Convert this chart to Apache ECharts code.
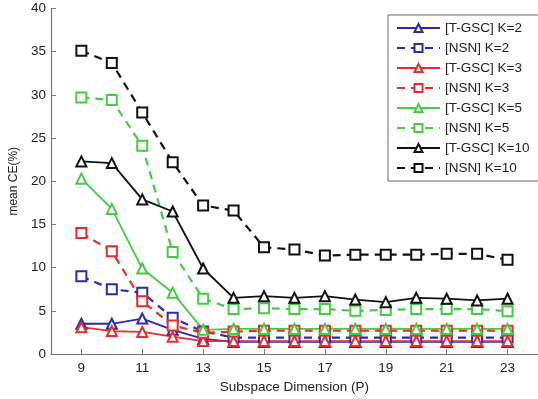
<!DOCTYPE html>
<html>
<head>
<meta charset="utf-8">
<script src="https://cdn.jsdelivr.net/npm/echarts@6/dist/echarts.min.js"></script>
<style>html,body{margin:0;padding:0;background:#fff}#c{width:538px;height:399px}</style>
</head>
<body>
<div id="c"></div>
<script>
var dims = [9,10,11,12,13,14,15,16,17,18,19,20,21,22,23];
var xTicks = [9,11,13,15,17,19,21,23];
var tgscK2  = [3.5,3.5,4.1,2.8,1.75,1.4,1.4,1.4,1.4,1.4,1.4,1.4,1.4,1.4,1.4];
var nsnK2   = [9.0,7.5,7.1,4.2,2.6,1.9,1.9,1.9,1.9,1.9,1.9,1.9,1.9,1.9,1.9];
var tgscK3  = [3.1,2.65,2.55,2.0,1.5,1.5,1.5,1.5,1.5,1.5,1.5,1.5,1.5,1.5,1.5];
var nsnK3   = [14.0,11.9,6.1,3.3,2.45,2.6,2.7,2.7,2.7,2.7,2.7,2.7,2.7,2.7,2.7];
var tgscK5  = [20.3,16.8,9.9,7.1,2.8,2.9,2.9,2.9,2.9,2.9,2.9,2.9,2.9,2.9,2.9];
var nsnK5   = [29.7,29.4,24.1,11.8,6.4,5.2,5.3,5.2,5.2,5.0,5.1,5.2,5.2,5.2,4.95];
var tgscK10 = [22.3,22.1,17.9,16.5,9.9,6.5,6.7,6.5,6.7,6.3,6.0,6.5,6.4,6.2,6.4];
var nsnK10  = [35.1,33.7,27.95,22.2,17.2,16.6,12.35,12.1,11.4,11.5,11.5,11.5,11.6,11.6,10.9];
var seriesNames = ['[T-GSC] K=2','[NSN] K=2','[T-GSC] K=3','[NSN] K=3','[T-GSC] K=5','[NSN] K=5','[T-GSC] K=10','[NSN] K=10'];
var seriesData = [tgscK2,nsnK2,tgscK3,nsnK3,tgscK5,nsnK5,tgscK10,nsnK10];
var colors = ['#2a2ab8','#2a2ab8','#ee2a2a','#ee2a2a','#44cc44','#44cc44','#111111','#111111'];

function mk(i){
  var dashed = (i % 2 === 1);
  return {
    name: seriesNames[i],
    type: 'line',
    data: dims.map(function(d,j){return [d, seriesData[i][j]];}),
    symbol: dashed ? 'emptyRect' : 'emptyTriangle',
    symbolSize: 10,
    color: colors[i],
    lineStyle: {width: dashed ? 2.2 : 1.8, type: dashed ? [8,6] : 'solid', color: colors[i]},
    itemStyle: {color: colors[i], borderWidth: 1.5, borderColor: colors[i]},
    animation: false
  };
}
var series = [];
for (var i=0;i<8;i++) series.push(mk(i));

var chart = echarts.init(document.getElementById('c'), null, {renderer:'canvas'});
chart.setOption({
  backgroundColor: '#fff',
  animation: false,
  grid: {left: 48, top: 8.5, width: 496, height: 346},
  xAxis: {
    type: 'value', min: 8, max: 24, interval: 1,
    name: 'Subspace Dimension (P)', nameLocation: 'middle', nameGap: 26,
    nameTextStyle: {fontFamily: 'Liberation Sans', fontSize: 13.5, color: '#222'},
    axisLine: {lineStyle: {color: '#777', width: 1.2}},
    axisTick: {inside: true, length: 5, customValues: xTicks, lineStyle: {color: '#777'}},
    axisLabel: {customValues: xTicks, margin: 7, fontFamily: 'Liberation Sans', fontSize: 13.5, color: '#222'},
    splitLine: {show: false}
  },
  yAxis: {
    type: 'value', min: 0, max: 40, interval: 5,
    name: 'mean CE(%)', nameLocation: 'middle', nameGap: 27, nameRotate: 90,
    nameTextStyle: {fontFamily: 'Liberation Sans', fontSize: 12, color: '#222'},
    axisLine: {show: true, lineStyle: {color: '#777', width: 1.2}},
    axisTick: {show: true, inside: true, length: 5, lineStyle: {color: '#777'}},
    axisLabel: {margin: 5, fontFamily: 'Liberation Sans', fontSize: 13.5, color: '#222'},
    splitLine: {show: false}
  },
  legend: {
    orient: 'vertical', left: 388, top: 15,
    backgroundColor: '#fff', borderColor: '#666', borderWidth: 1,
    padding: [6, 20, 6, 8],
    itemWidth: 43, itemHeight: 10, itemGap: 6,
    textStyle: {fontFamily: 'Liberation Sans', fontSize: 13.5, color: '#222', lineHeight: 14},
    data: seriesNames
  },
  series: series
});
</script>
</body>
</html>
